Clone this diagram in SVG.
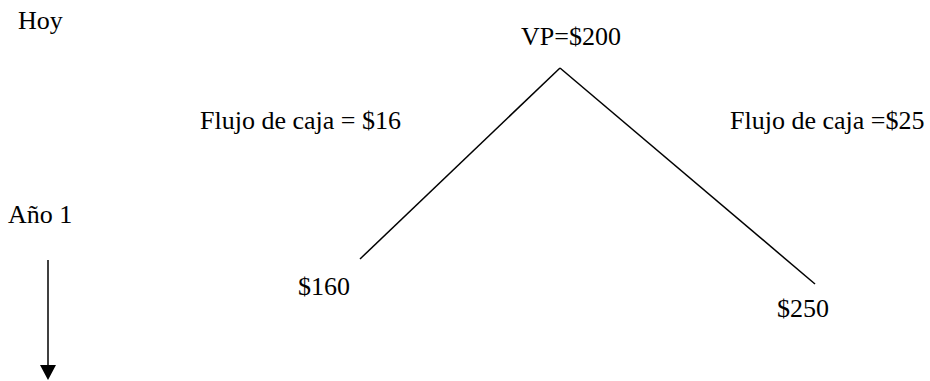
<svg xmlns="http://www.w3.org/2000/svg" width="930" height="381" viewBox="0 0 930 381">
<style>
text{font-family:'Liberation Serif','Times New Roman',serif;font-size:26px;fill:#000}
.ln{stroke:#000;stroke-width:1.5;fill:none}
</style>
<rect width="930" height="381" fill="#fff"/>
<g id="labels">
<text id="hoy" x="18" y="29">Hoy</text>
<text id="ano1" x="8" y="223">Año 1</text>
</g>
<g id="root"><text x="521" y="45">VP=$200</text></g>
<g id="left"><text x="298" y="295">$160</text></g>
<g id="right"><text x="777" y="317">$250</text></g>
<g id="edge-labels">
<text x="200" y="129">Flujo de caja = $16</text>
<text x="730" y="129">Flujo de caja =$25</text>
</g>
<g id="connectors">
<path class="ln" d="M560,68 L360,259"/>
<path class="ln" d="M560,68 L815,284"/>
<path class="ln" d="M48,260 L48,366"/>
<path d="M40,365 L56,365 L48,380 Z" fill="#000"/>
</g>
</svg>
